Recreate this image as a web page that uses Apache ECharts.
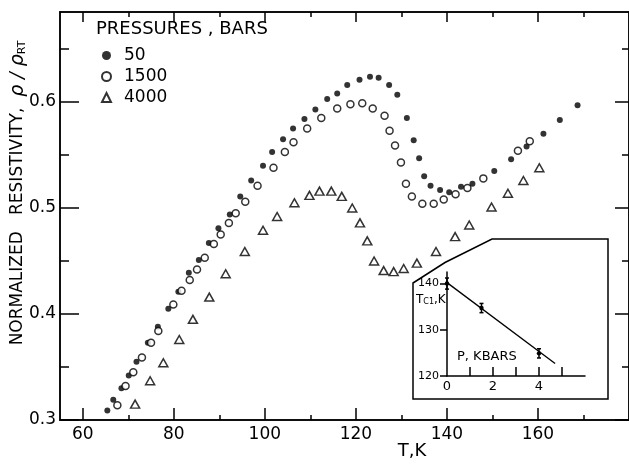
<!DOCTYPE html>
<html>
<head>
<meta charset="utf-8">
<script src="https://cdn.jsdelivr.net/npm/echarts@6/dist/echarts.min.js"></script>
<style>
  html, body { margin: 0; padding: 0; background: #fff; }
  #chart { width: 629px; height: 464px; }
</style>
</head>
<body>
<div id="chart"></div>
<script>
// resistivity vs temperature, three pressures (bars)
const temp50 = [65.4, 66.7, 68.5, 70.1, 71.8, 74.3, 76.5, 78.8, 81.0, 83.3, 85.5, 87.7, 89.8, 92.3, 94.6, 97.0, 99.6, 101.6, 104.0, 106.2, 108.7, 111.1, 113.7, 115.9, 118.1, 120.8, 123.1, 125.0, 127.3, 129.1, 131.2, 132.7, 133.9, 135.0, 136.4, 138.5, 140.5, 143.1, 145.6, 150.4, 154.1, 157.5, 161.2, 164.8, 168.7];
const rho50 = [0.309, 0.319, 0.330, 0.342, 0.355, 0.373, 0.388, 0.405, 0.421, 0.439, 0.451, 0.467, 0.481, 0.494, 0.511, 0.526, 0.540, 0.553, 0.565, 0.575, 0.584, 0.593, 0.603, 0.608, 0.616, 0.621, 0.624, 0.623, 0.616, 0.607, 0.585, 0.564, 0.547, 0.530, 0.521, 0.517, 0.515, 0.520, 0.523, 0.535, 0.546, 0.558, 0.570, 0.583, 0.597];

const temp1500 = [67.6, 69.4, 71.1, 73.0, 75.0, 76.6, 79.9, 81.7, 83.5, 85.1, 86.8, 88.8, 90.3, 92.1, 93.6, 95.7, 98.4, 101.9, 104.4, 106.3, 109.3, 112.4, 115.9, 118.8, 121.4, 123.7, 126.3, 127.4, 128.6, 129.9, 131.0, 132.3, 134.6, 137.1, 139.3, 141.9, 144.5, 148.0, 155.6, 158.2];
const rho1500 = [0.314, 0.332, 0.345, 0.359, 0.373, 0.384, 0.409, 0.422, 0.432, 0.442, 0.453, 0.466, 0.475, 0.486, 0.495, 0.506, 0.521, 0.538, 0.553, 0.562, 0.575, 0.585, 0.594, 0.598, 0.599, 0.594, 0.587, 0.573, 0.559, 0.543, 0.523, 0.511, 0.504, 0.504, 0.508, 0.513, 0.519, 0.528, 0.554, 0.563];

const temp4000 = [71.5, 74.8, 77.7, 81.2, 84.2, 87.8, 91.4, 95.6, 99.6, 102.7, 106.5, 109.8, 112.0, 114.6, 116.9, 119.2, 120.9, 122.5, 124.0, 126.1, 128.3, 130.5, 133.4, 137.6, 141.8, 144.9, 149.8, 153.4, 156.8, 160.3];
const rho4000 = [0.315, 0.337, 0.354, 0.376, 0.395, 0.416, 0.438, 0.459, 0.479, 0.492, 0.505, 0.512, 0.516, 0.516, 0.511, 0.500, 0.486, 0.469, 0.450, 0.441, 0.440, 0.443, 0.448, 0.459, 0.473, 0.484, 0.501, 0.514, 0.526, 0.538];

// inset: transition temperature vs pressure
const pressKbar = [0, 1.5, 4];
const tcK = [140, 134.7, 124.9];
const tcErr = [1.2, 1.0, 1.0];
const fitP = [0, 4.7];
const fitTc = [140.2, 122.7];

// ticks / labels
const xMajor = [60, 80, 100, 120, 140, 160];
const xMinor = [70, 90, 110, 130, 150, 170];
const yMajor = [0.3, 0.4, 0.5, 0.6];
const yMinor = [0.35, 0.45, 0.55, 0.65];
const insetXTicks = [1, 2, 3, 4, 5];
const insetXLabels = [0, 2, 4];
const insetYTicks = [120, 130, 140];
const insetYLabels = [120, 130, 140];

const FONT = 'DejaVu Sans';
const pairs = (xs, ys) => xs.map((x, i) => [x, ys[i]]);

function mainX(pos, ticks, len, labels) {
  return {
    type: 'value', gridIndex: 0, min: 55, max: 180, position: pos,
    axisLine: { show: true, onZero: false, lineStyle: { color: '#000', width: 1.5 } },
    axisTick: { show: true, inside: true, length: len, customValues: ticks, lineStyle: { color: '#000', width: 1.5 } },
    axisLabel: labels ? { show: true, customValues: labels, color: '#000', fontSize: 17, fontFamily: FONT, margin: 6 } : { show: false },
    splitLine: { show: false }
  };
}
function mainY(pos, ticks, len, labels) {
  return {
    type: 'value', gridIndex: 0, min: 0.3, max: 0.685, position: pos,
    axisLine: { show: true, onZero: false, lineStyle: { color: '#000', width: 1.5 } },
    axisTick: { show: true, inside: true, length: len, customValues: ticks, lineStyle: { color: '#000', width: 1.5 } },
    axisLabel: labels ? { show: true, customValues: labels, color: '#000', fontSize: 17, fontFamily: FONT, margin: 4,
      formatter: v => v.toFixed(1) } : { show: false },
    splitLine: { show: false }
  };
}

const chart = echarts.init(document.getElementById('chart'));
chart.setOption({
  animation: false,
  backgroundColor: '#fff',
  title: {
    text: 'PRESSURES , BARS', left: 96, top: 20, padding: 0,
    textStyle: { fontSize: 18, fontWeight: 'normal', fontFamily: FONT, color: '#000' }
  },
  legend: {
    data: ['50', '1500', '4000'], orient: 'vertical', left: 101, top: 47, padding: 0,
    itemWidth: 9, itemHeight: 9, itemGap: 4,
    textStyle: { fontSize: 17, fontFamily: FONT, color: '#000', padding: [0, 0, 0, 8] }
  },
  grid: [
    { left: 60, top: 12, width: 570, height: 408 },
    { left: 447, top: 272, width: 138, height: 104 }
  ],
  xAxis: [
    mainX('bottom', xMajor, 12, xMajor),
    mainX('bottom', xMinor, 5),
    mainX('top', xMajor, 10),
    mainX('top', xMinor, 5),
    {
      type: 'value', gridIndex: 1, min: 0, max: 6, position: 'bottom',
      axisLine: { show: true, onZero: false, lineStyle: { color: '#000', width: 1.5 } },
      axisTick: { show: true, inside: true, length: 9, customValues: insetXTicks, lineStyle: { color: '#000', width: 1.5 } },
      axisLabel: { show: true, customValues: insetXLabels, color: '#000', fontSize: 13, fontFamily: FONT, margin: 4 },
      splitLine: { show: false }
    }
  ],
  yAxis: [
    mainY('left', yMajor, 19, yMajor),
    mainY('left', yMinor, 9),
    mainY('right', yMajor, 14),
    mainY('right', yMinor, 7),
    {
      type: 'value', gridIndex: 1, min: 120, max: 142.5, position: 'left',
      axisLine: { show: true, onZero: false, lineStyle: { color: '#000', width: 1.5 } },
      axisTick: { show: true, inside: false, length: 7, customValues: insetYTicks, lineStyle: { color: '#000', width: 1.5 } },
      axisLabel: { show: true, customValues: insetYLabels, color: '#000', fontSize: 11, fontFamily: FONT, margin: 8 },
      splitLine: { show: false }
    }
  ],
  series: [
    {
      name: '50', type: 'scatter', xAxisIndex: 0, yAxisIndex: 0,
      data: pairs(temp50, rho50), symbol: 'circle', symbolSize: 6,
      itemStyle: { color: '#000' }
    },
    {
      name: '1500', type: 'scatter', xAxisIndex: 0, yAxisIndex: 0,
      data: pairs(temp1500, rho1500), symbol: 'circle', symbolSize: 7,
      itemStyle: { color: '#fff', borderColor: '#000', borderWidth: 1.5 }
    },
    {
      name: '4000', type: 'scatter', xAxisIndex: 0, yAxisIndex: 0,
      data: pairs(temp4000, rho4000), symbol: 'triangle', symbolSize: [9, 8],
      itemStyle: { color: '#fff', borderColor: '#000', borderWidth: 1.5 }
    },
    {
      name: 'fit', type: 'line', xAxisIndex: 4, yAxisIndex: 4,
      data: pairs(fitP, fitTc), symbol: 'none',
      lineStyle: { color: '#000', width: 1.3 }
    },
    {
      name: 'tc', type: 'custom', xAxisIndex: 4, yAxisIndex: 4,
      data: pressKbar.map((p, i) => [p, tcK[i], tcErr[i]]),
      renderItem: (params, api) => {
        const p = api.value(0), t = api.value(1), e = api.value(2);
        const c = api.coord([p, t]);
        const lo = api.coord([p, t - e]);
        const hi = api.coord([p, t + e]);
        const s = { stroke: '#000', lineWidth: 1.5 };
        return {
          type: 'group',
          children: [
            { type: 'line', shape: { x1: lo[0], y1: lo[1], x2: hi[0], y2: hi[1] }, style: s },
            { type: 'line', shape: { x1: lo[0] - 2, y1: lo[1], x2: lo[0] + 2, y2: lo[1] }, style: s },
            { type: 'line', shape: { x1: hi[0] - 2, y1: hi[1], x2: hi[0] + 2, y2: hi[1] }, style: s },
            { type: 'circle', shape: { cx: c[0], cy: c[1], r: 2.2 }, style: { fill: '#000' } }
          ]
        };
      }
    }
  ],
  graphic: [
    {
      type: 'text', x: 18, y: 193, rotation: Math.PI / 2,
      style: {
        text: '{a|NORMALIZED   RESISTIVITY,  }{g|ρ / ρ}{s|RT}',
        align: 'center', verticalAlign: 'middle',
        rich: {
          a: { fontSize: 17, fontFamily: FONT, fill: '#000' },
          g: { fontSize: 19, fontFamily: FONT, fontStyle: 'italic', fill: '#000' },
          s: { fontSize: 11, fontFamily: FONT, fill: '#000', verticalAlign: 'bottom' }
        }
      }
    },
    {
      type: 'text', x: 412, y: 451,
      style: { text: 'T,K', align: 'center', verticalAlign: 'middle', fontSize: 18, fontFamily: FONT, fill: '#000' }
    },
    {
      type: 'text', x: 416, y: 300,
      style: {
        text: '{t|T}{s|C1}{t|,K}', align: 'left', verticalAlign: 'middle',
        rich: {
          t: { fontSize: 12, fontFamily: FONT, fill: '#000' },
          s: { fontSize: 8, fontFamily: FONT, fill: '#000', verticalAlign: 'bottom' }
        }
      }
    },
    {
      type: 'text', x: 457, y: 357,
      style: { text: 'P, KBARS', align: 'left', verticalAlign: 'middle', fontSize: 13, fontFamily: FONT, fill: '#000' }
    },
    {
      type: 'polygon',
      shape: { points: [[413, 283], [445, 262.5], [492, 239], [608, 239], [608, 399], [413, 399]] },
      style: { fill: 'none', stroke: '#000', lineWidth: 1.5 }
    }
  ]
});
</script>
</body>
</html>
